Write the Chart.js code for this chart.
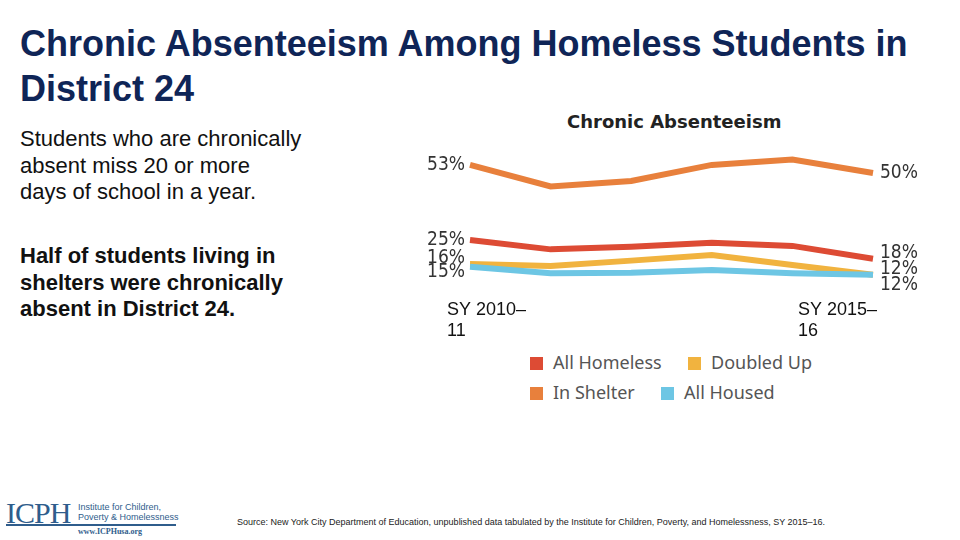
<!DOCTYPE html>
<html lang="en">
<head>
<meta charset="UTF-8">
<title>Chronic Absenteeism</title>
<script src="https://cdn.jsdelivr.net/npm/chart.js@4/dist/chart.umd.min.js"></script>
<style>
    body { margin: 0; width: 960px; height: 540px; position: relative; background: #fff; font-family: "Liberation Sans", Arial, sans-serif; overflow: hidden; }
    .title { position: absolute; left: 20px; top: 21px; font-size: 36px; font-weight: bold; color: #0f2557; line-height: 45px; white-space: nowrap; }
    .note { position: absolute; left: 20px; font-size: 22px; line-height: 26.5px; color: #111; white-space: nowrap; }
    .chart-title { position: absolute; left: 567px; top: 111px; font-family: "DejaVu Sans", sans-serif; font-weight: bold; font-size: 18px; color: #222; }
    #wrap { position: absolute; left: 420px; top: 100px; width: 500px; height: 250px; }
    .legend { position: absolute; left: 530px; top: 350px; font-family: "Noto Sans", sans-serif; font-size: 18px; color: #555; }
    .legend div { position: absolute; white-space: nowrap; }
    .legend span { display: inline-block; width: 13px; height: 13px; margin-right: 10px; vertical-align: -1px; }
    .source { position: absolute; left: 237px; top: 517px; font-size: 9px; color: #222; white-space: nowrap; }
    .logo { position: absolute; left: 6px; top: 496px; }
</style>
</head>
<body>
<div class="title">Chronic Absenteeism Among Homeless Students in<br>District 24</div>
<div class="note" style="top: 126px">Students who are chronically<br>absent miss 20 or more<br>days of school in a year.</div>
<div class="note" style="top: 243px; font-weight: bold">Half of students living in<br>shelters were chronically<br>absent in District 24.</div>
<div class="chart-title">Chronic Absenteeism</div>
<div id="wrap"><canvas id="chart"></canvas></div>
<div class="legend" id="legend"></div>
<div class="logo">
    <div style="font-family: 'Liberation Serif', serif; font-size: 30px; color: #2f5d8c; letter-spacing: -1px; position: absolute; top: 0; left: 0">ICPH</div>
    <div style="position: absolute; left: 72px; top: 6px; font-size: 9px; line-height: 10px; color: #2f5d8c; white-space: nowrap">Institute for Children,<br>Poverty &amp; Homelessness</div>
    <div style="position: absolute; left: 0; top: 28px; width: 170px; height: 2px; background: #2f5d8c"></div>
    <div style="position: absolute; left: 72px; top: 31px; font-family: 'Liberation Serif', serif; font-size: 8px; color: #2f5d8c; white-space: nowrap; font-weight: bold">www.ICPHusa.org</div>
</div>
<div class="source">Source: New York City Department of Education, unpublished data tabulated by the Institute for Children, Poverty, and Homelessness, SY 2015–16.</div>
<script>
    const years = ['SY 2010–11', 'SY 2011–12', 'SY 2012–13', 'SY 2013–14', 'SY 2014–15', 'SY 2015–16'];
    const xLabels = [['SY 2010–', '11'], ['SY 2015–', '16']];
    const inShelter = [53, 45, 47, 53, 55, 50];
    const allHomeless = [25, 21.5, 22.5, 24, 22.8, 18];
    const doubledUp = [16, 15.3, 17.3, 19.4, 15.7, 12];
    const allHoused = [15, 12.6, 12.8, 13.8, 12.6, 12];

    const series = [
        {label: 'All Homeless', data: allHomeless, color: '#dd4b34'},
        {label: 'Doubled Up', data: doubledUp, color: '#f1b33f'},
        {label: 'In Shelter', data: inShelter, color: '#e8803c'},
        {label: 'All Housed', data: allHoused, color: '#6dc6e4'}
    ];

    // legend 2x2
    const legendPos = [[0, 0], [158, 0], [0, 30], [131, 30]];
    document.getElementById('legend').innerHTML = series.map((s, i) =>
        `<div style="left:${legendPos[i][0]}px; top:${legendPos[i][1]}px"><span style="background:${s.color}"></span>${s.label}</div>`
    ).join('');

    // spread labels so they don't overlap
    function spread(items, gap) {
        items.sort((a, b) => a.y - b.y);
        let groups = items.map(it => ({items: [it], c: it.y}));
        let changed = true;
        while (changed) {
            changed = false;
            for (let i = 0; i < groups.length - 1; i++) {
                const a = groups[i], b = groups[i + 1];
                const aBottom = a.c + (a.items.length - 1) * gap / 2;
                const bTop = b.c - (b.items.length - 1) * gap / 2;
                if (bTop - aBottom < gap) {
                    const all = a.items.concat(b.items);
                    const c = all.reduce((s, it) => s + it.y, 0) / all.length;
                    groups.splice(i, 2, {items: all, c: c});
                    changed = true;
                    break;
                }
            }
        }
        groups.forEach(g => g.items.forEach((it, k) => {
            it.ly = g.c + (k - (g.items.length - 1) / 2) * gap;
        }));
        return items;
    }

    const endLabels = {
        id: 'endLabels',
        afterDraw(chart) {
            const ctx = chart.ctx;
            const xs = chart.scales.x, ys = chart.scales.y;
            const last = years.length - 1;
            ctx.save();
            ctx.fillStyle = '#333';
            ctx.font = '19px "Liberation Sans Narrow", "DejaVu Sans Condensed", sans-serif';
            ctx.textBaseline = 'middle';
            const left = spread(series.map(s => ({v: s.data[0], y: ys.getPixelForValue(s.data[0])})), 14);
            ctx.textAlign = 'right';
            left.forEach(it => ctx.fillText(Math.round(it.v) + '%', xs.getPixelForValue(0) - 5, it.ly));
            const right = spread(series.map(s => ({v: s.data[last], y: ys.getPixelForValue(s.data[last])})), 16);
            ctx.textAlign = 'left';
            right.forEach(it => ctx.fillText(Math.round(it.v) + '%', xs.getPixelForValue(last) + 7, it.ly));

            // x labels
            ctx.fillStyle = '#111';
            ctx.font = '18px "Liberation Sans", Arial, sans-serif';
            ctx.textBaseline = 'alphabetic';
            const bottom = chart.chartArea.bottom;
            ctx.textAlign = 'left';
            xLabels[0].forEach((t, i) => ctx.fillText(t, xs.getPixelForValue(0) - 23, bottom + 8 + i * 21));
            xLabels[1].forEach((t, i) => ctx.fillText(t, xs.getPixelForValue(last) - 75, bottom + 8 + i * 21));
            ctx.restore();
        }
    };

    new Chart(document.getElementById('chart'), {
        type: 'line',
        data: {
            labels: years,
            datasets: series.slice().reverse().map(s => ({
                label: s.label,
                data: s.data,
                borderColor: s.color,
                backgroundColor: s.color,
                borderWidth: 6,
                pointRadius: 0,
                tension: 0
            }))
        },
        options: {
            responsive: true,
            maintainAspectRatio: false,
            animation: false,
            layout: {padding: {left: 50, right: 47, top: 40, bottom: 43}},
            plugins: {legend: {display: false}, tooltip: {enabled: false}},
            scales: {
                x: {display: false, offset: false},
                y: {display: false, min: 0, max: 62.3}
            }
        },
        plugins: [endLabels]
    });
</script>
</body>
</html>
